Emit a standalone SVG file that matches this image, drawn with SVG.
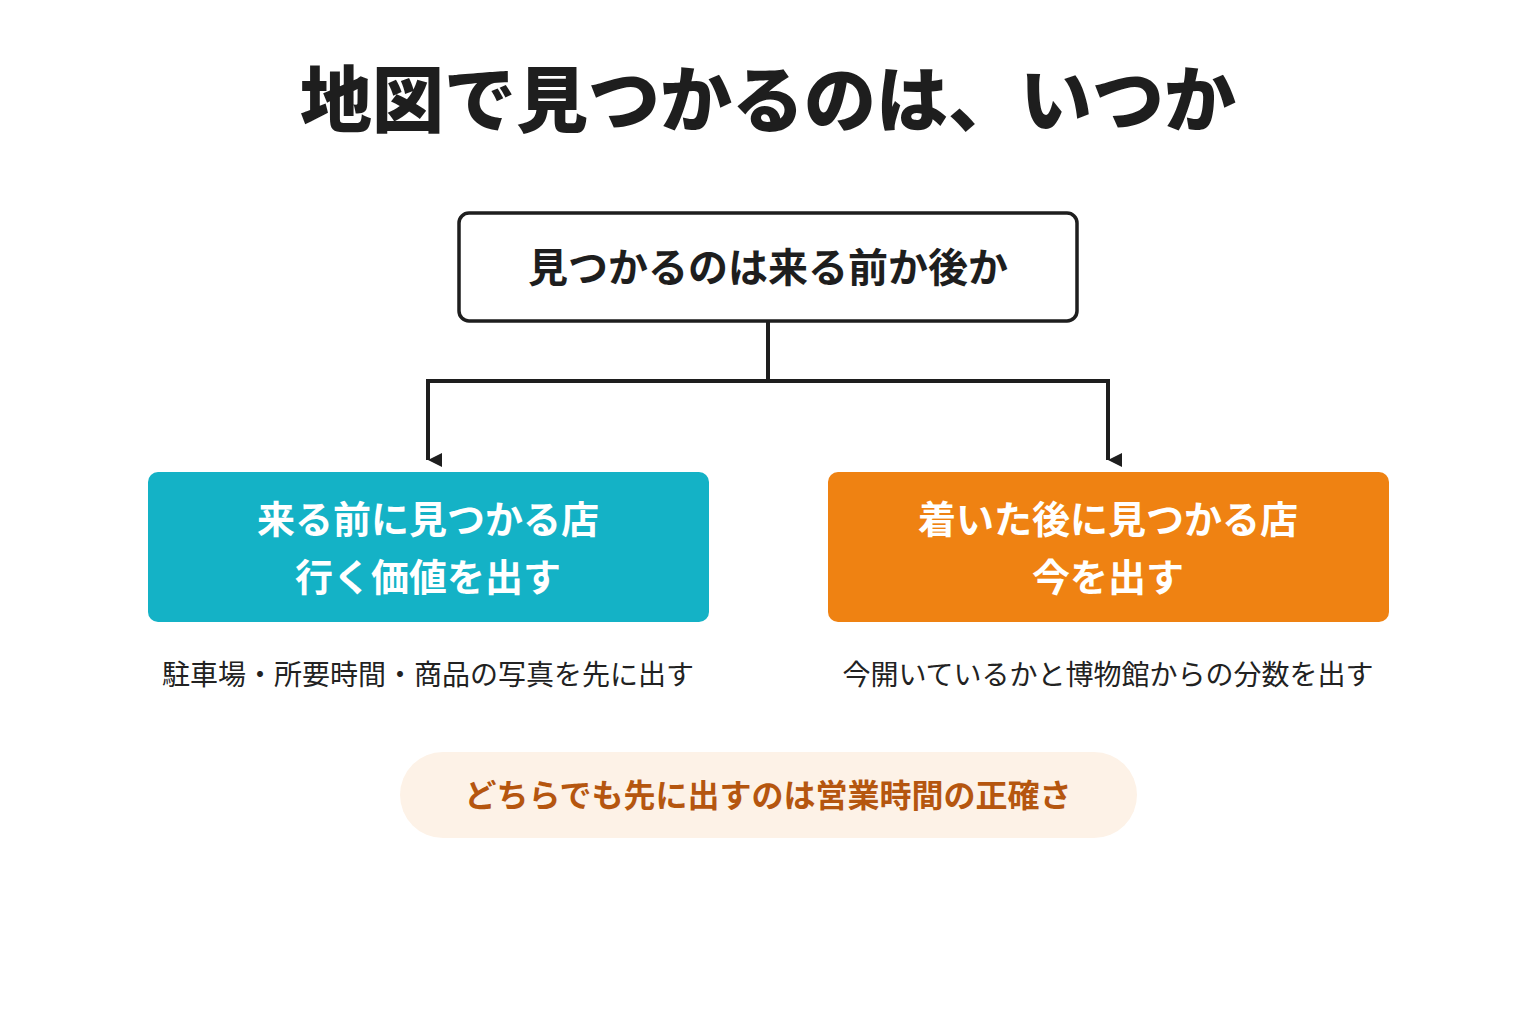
<svg xmlns="http://www.w3.org/2000/svg" width="1536" height="1024" viewBox="0 0 1536 1024">
<style>
text{font-family:"Noto Sans CJK JP","Noto Sans",sans-serif;text-anchor:middle}
.t{font-size:72px;font-weight:900;fill:#1e1e1e}
.h{font-size:40px;font-weight:700;fill:#1e1e1e}
.w{font-size:38px;font-weight:700;fill:#fff}
.c{font-size:28px;fill:#222}
.n{font-size:32px;font-weight:700;fill:#b5560f}
.ln{fill:none;stroke:#1e1e1e;stroke-width:4}
</style>
<defs><marker id="a" viewBox="0 0 10 10" refX="5" refY="10" markerWidth="24" markerHeight="14" markerUnits="userSpaceOnUse" orient="auto-start-reverse"><path d="M0,0L10,0L5,10Z" fill="#1e1e1e"/></marker></defs>
<rect width="1536" height="1024" fill="#fff"/>
<text class="t" x="768" y="126">地図で見つかるのは、いつか</text>
<g id="top"><rect x="459" y="213" width="618" height="108" rx="10" fill="#fff" stroke="#1e1e1e" stroke-width="3.5"/><text class="h" x="768" y="282">見つかるのは来る前か後か</text></g>
<g id="connectors"><path class="ln" d="M768,321V381"/><path class="ln" d="M428,460V381H1108V460" marker-start="url(#a)" marker-end="url(#a)"/></g>
<g id="left"><rect x="148" y="472" width="561" height="150" rx="10" fill="#14b2c6"/><text class="w" x="428" y="533">来る前に見つかる店</text><text class="w" x="428" y="591">行く価値を出す</text><text class="c" x="428" y="685">駐車場・所要時間・商品の写真を先に出す</text></g>
<g id="right"><rect x="828" y="472" width="561" height="150" rx="10" fill="#ef8212"/><text class="w" x="1108" y="533">着いた後に見つかる店</text><text class="w" x="1108" y="591">今を出す</text><text class="c" x="1108" y="685">今開いているかと博物館からの分数を出す</text></g>
<g id="note"><rect x="400" y="752" width="737" height="86" rx="43" fill="#fdf2e7"/><text class="n" x="768" y="807">どちらでも先に出すのは営業時間の正確さ</text></g>
</svg>
